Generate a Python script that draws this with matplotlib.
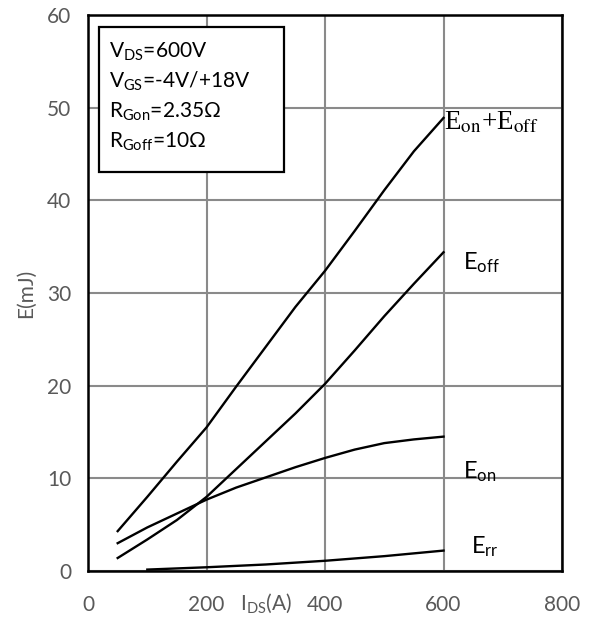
import numpy as np
import matplotlib
matplotlib.use('Agg')
import matplotlib.pyplot as plt
from matplotlib.patches import Rectangle

plt.rcParams['font.family'] = ['Lato', 'DejaVu Sans']
plt.rcParams['mathtext.fontset'] = 'custom'
plt.rcParams['mathtext.rm'] = 'Lato'
plt.rcParams['mathtext.it'] = 'Lato:italic'
plt.rcParams['mathtext.bf'] = 'Lato:bold'

# data (I_DS in A, E in mJ)
ids = [50, 100, 150, 200, 250, 300, 350, 400, 450, 500, 550, 600]
e_total = [4.3, 8.0, 11.8, 15.5, 19.9, 24.2, 28.5, 32.4, 36.7, 41.1, 45.3, 48.9]
e_off = [1.4, 3.4, 5.5, 8.0, 11.0, 14.0, 17.0, 20.2, 23.8, 27.5, 31.0, 34.4]
e_on = [3.0, 4.7, 6.2, 7.7, 9.0, 10.1, 11.2, 12.2, 13.1, 13.8, 14.2, 14.5]
ids_rr = [100, 200, 300, 400, 500, 600]
e_rr = [0.15, 0.4, 0.7, 1.1, 1.6, 2.2]

xticks = [0, 200, 400, 600, 800]
yticks = [0, 10, 20, 30, 40, 50, 60]
conditions = [r'V$_{\mathrm{DS}}$=600V', r'V$_{\mathrm{GS}}$=-4V/+18V',
              r'R$_{\mathrm{Gon}}$=2.35Ω', r'R$_{\mathrm{Goff}}$=10Ω']

grey = '#595959'

fig = plt.figure(figsize=(5.91, 6.17), dpi=100)
ax = fig.add_axes([0.149, 0.0746, 0.802, 0.901])

ax.plot(ids, e_total, color='black', lw=1.7, zorder=3)
ax.plot(ids, e_off, color='black', lw=1.7, zorder=3)
ax.plot(ids, e_on, color='black', lw=1.7, zorder=3)
ax.plot(ids_rr, e_rr, color='black', lw=1.7, zorder=3)

ax.set_xlim(0, 800)
ax.set_ylim(0, 60)
ax.set_xticks(xticks)
ax.set_yticks(yticks)
ax.tick_params(length=0, labelsize=15, labelcolor=grey)
ax.tick_params(axis='x', pad=17)
ax.tick_params(axis='y', pad=12)
ax.grid(True, color='#8a8a8a', lw=1.5)
ax.set_axisbelow(True)
for s in ax.spines.values():
    s.set_color('black')
    s.set_linewidth(1.8)

ax.set_ylabel('E(mJ)', fontsize=15, color=grey, labelpad=8)
ax.text(300, -3.45, r'I$_{\mathrm{DS}}$(A)', fontsize=15, color=grey,
        ha='center', va='center', clip_on=False)

# curve labels
ax.text(600, 47.7, r'E$_{\mathrm{on}}$+E$_{\mathrm{off}}$', fontsize=19.5,
        family='Liberation Serif', math_fontfamily='stix', va='baseline')
ax.text(633, 32.6, r'E$_{\mathrm{off}}$', fontsize=17, va='baseline')
ax.text(633, 10.0, r'E$_{\mathrm{on}}$', fontsize=17, va='baseline')
ax.text(646, 1.9, r'E$_{\mathrm{rr}}$', fontsize=17, va='baseline')

# test conditions box
ax.add_patch(Rectangle((0.023, 0.7176), 0.3905, 0.2604, transform=ax.transAxes,
                       facecolor='white', edgecolor='black', lw=1.6, zorder=4))
for i, line in enumerate(conditions):
    ax.text(0.044, 0.9227 - i * 0.0535, line, fontsize=15, transform=ax.transAxes,
            va='baseline', zorder=5)

fig.savefig('out.png', dpi=100)
